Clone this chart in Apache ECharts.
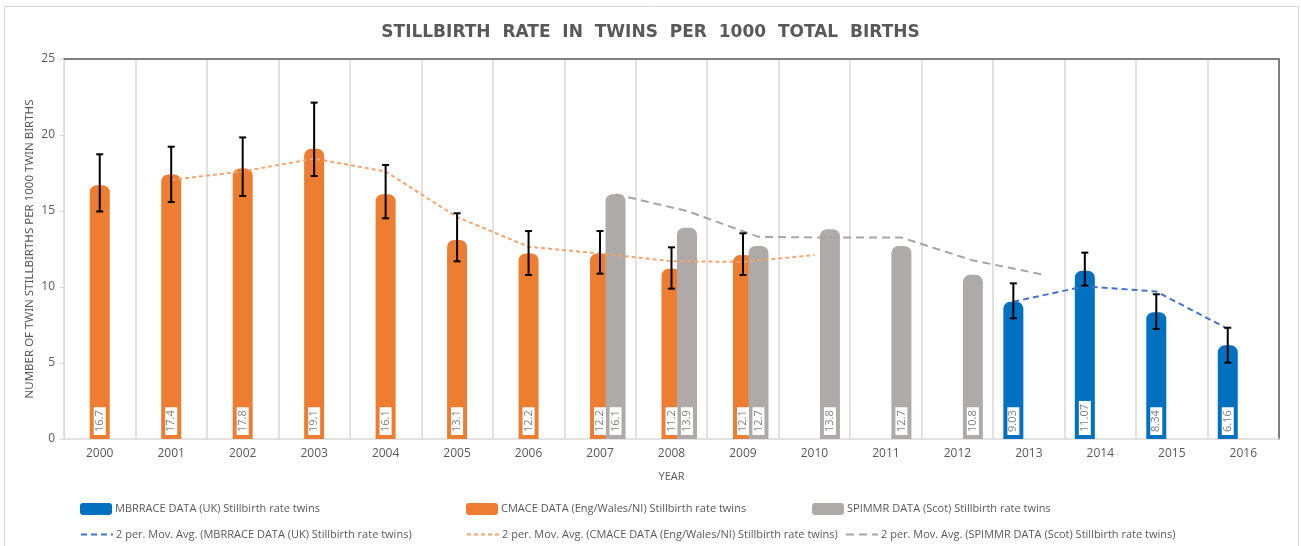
<!DOCTYPE html>
<html>
<head>
<meta charset="utf-8">
<script src="https://cdn.jsdelivr.net/npm/echarts@6/dist/echarts.min.js"></script>
<style>html,body{margin:0;padding:0;background:#fff}#c{width:1301px;height:546px}</style>
</head>
<body>
<div id="c"></div>
<script>
const years = ['2000','2001','2002','2003','2004','2005','2006','2007','2008','2009','2010','2011','2012','2013','2014','2015','2016'];
const mbrrace = [null,null,null,null,null,null,null,null,null,null,null,null,null,9.03,11.07,8.34,6.16];
const cmace = [16.7,17.4,17.8,19.1,16.1,13.1,12.2,12.2,11.2,12.1,null,null,null,null,null,null,null];
const spimmr = [null,null,null,null,null,null,null,16.1,13.9,12.7,13.8,12.7,10.8,null,null,null,null];
const mbrraceMA = [null,null,null,null,null,null,null,null,null,null,null,null,null,9.03,10.05,9.705,7.25];
const cmaceMA = [null,17.05,17.6,18.45,17.6,14.6,12.65,12.2,11.7,11.65,12.1,null,null,null,null,null,null];
const spimmrMA = [null,null,null,null,null,null,null,16.1,15.0,13.3,13.25,13.25,11.75,10.8,null,null,null];
const cmaceErrLow = [14.97,15.59,15.99,17.30,14.52,11.69,10.79,10.88,9.89,10.79,null,null,null,null,null,null,null];
const cmaceErrHigh = [18.73,19.23,19.84,22.13,18.03,14.85,13.68,13.68,12.61,13.53,null,null,null,null,null,null,null];
const mbrraceErrLow = [null,null,null,null,null,null,null,null,null,null,null,null,null,7.94,10.09,7.24,5.02];
const mbrraceErrHigh = [null,null,null,null,null,null,null,null,null,null,null,null,null,10.24,12.26,9.52,7.32];

const names = {
  mb: 'MBRRACE DATA (UK) Stillbirth rate twins',
  cm: 'CMACE DATA (Eng/Wales/NI) Stillbirth rate twins',
  sp: 'SPIMMR DATA (Scot) Stillbirth rate twins'
};
const maName = k => '2 per. Mov. Avg. (' + names[k] + ')';

const OFF = 15.5 / 71.4; // cluster offset in category units
const C_BLUE = '#0070C0', C_ORANGE = '#ED7D31', C_GRAY = '#AEAAAA';
const TXT = '#595959';
const FONT = '"Open Sans", "Noto Sans", sans-serif';

function linePts(arr, off) {
  return arr.map((v, i) => v == null ? null : [i + off, v]).filter(p => p);
}
function errPts(lo, hi, off) {
  const out = [];
  lo.forEach((v, i) => { if (v != null && hi[i] != null) out.push([i + off, v, hi[i]]); });
  return out;
}
function barSeries(name, data, color) {
  return {
    name, type: 'bar', data, xAxisIndex: 0, yAxisIndex: 0,
    barWidth: 20, barGap: '-22.5%',
    itemStyle: { color, borderRadius: [7, 7, 0, 0] },
    label: {
      show: true, position: 'insideBottom', rotate: 90, distance: 4,
      align: 'left', verticalAlign: 'middle',
      formatter: p => String(p.value),
      backgroundColor: '#fff', padding: [1, 3, 0, 3],
      color: '#808080', fontSize: 11, fontFamily: FONT
    }
  };
}
function maSeries(name, pts, color, dash) {
  return {
    name, type: 'line', data: pts, xAxisIndex: 1, yAxisIndex: 0,
    symbol: 'none', showSymbol: false, silent: true, z: 5,
    lineStyle: { color, width: 2, type: dash },
    itemStyle: { color }
  };
}
function errSeries(pts) {
  return {
    type: 'custom', xAxisIndex: 1, yAxisIndex: 0, data: pts, z: 6, silent: true,
    renderItem: (params, api) => {
      const x = api.value(0);
      const lo = api.coord([x, api.value(1)]);
      const hi = api.coord([x, api.value(2)]);
      const st = { stroke: '#000', lineWidth: 2 };
      return { type: 'group', children: [
        { type: 'line', shape: { x1: lo[0], y1: lo[1], x2: hi[0], y2: hi[1] }, style: st },
        { type: 'line', shape: { x1: lo[0] - 3.5, y1: lo[1], x2: lo[0] + 3.5, y2: lo[1] }, style: st },
        { type: 'line', shape: { x1: hi[0] - 3.5, y1: hi[1], x2: hi[0] + 3.5, y2: hi[1] }, style: st }
      ]};
    }
  };
}

const legendCommon = {
  orient: 'horizontal', itemWidth: 32, itemHeight: 12, padding: 0,
  textStyle: { color: TXT, fontSize: 11, fontFamily: FONT, padding: [0, 0, 0, -2] }
};
function barLegend(left, key) {
  return Object.assign({ left, top: 503, data: [{ name: names[key], icon: 'roundRect' }] }, legendCommon);
}
function lineLegend(left, key) {
  return Object.assign({ left, top: 529,
    data: [{ name: maName(key), itemStyle: { opacity: 0, color: 'rgba(0,0,0,0)', borderWidth: 0 } }]
  }, legendCommon);
}

const chart = echarts.init(document.getElementById('c'));
chart.setOption({
  animation: false,
  backgroundColor: '#fff',
  title: {
    text: 'STILLBIRTH  RATE  IN  TWINS  PER  1000  TOTAL  BIRTHS',
    left: 'center', top: 19,
    textStyle: { color: TXT, fontSize: 17, fontWeight: 'bold', fontFamily: '"DejaVu Sans", sans-serif' }
  },
  graphic: [{
    type: 'rect', left: 2, top: 4, shape: { width: 1294, height: 540 },
    style: { fill: 'none', stroke: '#D9D9D9', lineWidth: 1 }, silent: true
  }],
  legend: [
    barLegend(80, 'mb'), barLegend(466, 'cm'), barLegend(812, 'sp'),
    lineLegend(80, 'mb'), lineLegend(466, 'cm'), lineLegend(845, 'sp')
  ],
  grid: { left: 64, right: 22, top: 59, bottom: 107, containLabel: false },
  xAxis: [{
    type: 'category', data: years, boundaryGap: true,
    name: 'YEAR', nameLocation: 'middle', nameGap: 32,
    nameTextStyle: { color: TXT, fontSize: 11, fontFamily: FONT },
    axisLine: { onZero: false, lineStyle: { color: '#D9D9D9', width: 1.5 } },
    axisTick: { show: false },
    axisLabel: { color: TXT, fontSize: 12, fontFamily: FONT, margin: 9 },
    splitLine: { show: true, lineStyle: { color: '#D9D9D9', width: 1.5 } }
  }, {
    type: 'value', min: -0.5, max: 16.5, position: 'top',
    axisLine: { show: true, onZero: false, lineStyle: { color: '#7F7F7F', width: 2 } },
    axisTick: { show: false }, axisLabel: { show: false }, splitLine: { show: false }
  }],
  yAxis: [{
    type: 'value', min: 0, max: 25, interval: 5,
    name: 'NUMBER OF TWIN STILLBIRTHS PER 1000 TWIN BIRTHS',
    nameLocation: 'middle', nameGap: 28, nameRotate: 90, nameMoveOverlap: false,
    nameTextStyle: { color: TXT, fontSize: 11.5, fontFamily: '"Liberation Sans Narrow", "Noto Sans", sans-serif' },
    axisLine: { show: true, onZero: false, lineStyle: { color: '#D9D9D9' } },
    axisTick: { show: true, length: 4, lineStyle: { color: '#D9D9D9' } },
    axisLabel: { color: TXT, fontSize: 12, fontFamily: FONT, margin: 9 },
    splitLine: { show: false }
  }, {
    type: 'value', min: 0, max: 25, interval: 5, position: 'right',
    axisLine: { show: true, onZero: false, lineStyle: { color: '#7F7F7F', width: 2 } },
    axisTick: { show: false }, axisLabel: { show: false }, splitLine: { show: false }
  }],
  series: [
    barSeries(names.mb, mbrrace, C_BLUE),
    barSeries(names.cm, cmace, C_ORANGE),
    barSeries(names.sp, spimmr, C_GRAY),
    maSeries(maName('mb'), linePts(mbrraceMA, -OFF), '#4472C4', [6, 4]),
    maSeries(maName('cm'), linePts(cmaceMA, 0), '#F4A46E', [4, 3]),
    maSeries(maName('sp'), linePts(spimmrMA, OFF), '#A5A5A5', [8, 5]),
    errSeries(errPts(cmaceErrLow, cmaceErrHigh, 0)),
    errSeries(errPts(mbrraceErrLow, mbrraceErrHigh, -OFF))
  ]
});
</script>
</body>
</html>
